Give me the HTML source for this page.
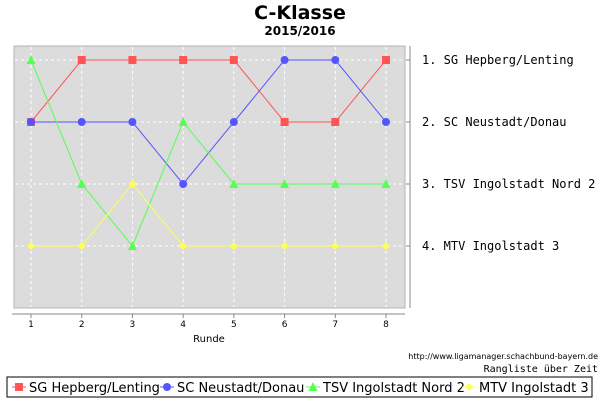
<!DOCTYPE html>
<html><head><meta charset="utf-8"><style>
body{margin:0;background:#fff;width:600px;height:400px;overflow:hidden}
svg text{font-family:"DejaVu Sans","Liberation Sans",sans-serif}
</style></head><body>
<svg id="c" width="600" height="400" xmlns="http://www.w3.org/2000/svg">
<text x="300" y="19" text-anchor="middle" font-size="19" font-weight="bold">C-Klasse</text>
<text x="300" y="35" text-anchor="middle" font-size="12" font-weight="bold">2015/2016</text>
<rect x="14" y="46" width="391" height="262" fill="#dcdcdc" stroke="#b4b4b4"/>
<g id="grid"></g>
<line x1="12" y1="314" x2="405" y2="314" stroke="#888"/>
<line x1="410" y1="46" x2="410" y2="308" stroke="#888"/>
<g id="ticks"></g>
<text x="209" y="342" text-anchor="middle" font-size="10">Runde</text>
<text x="598" y="359" text-anchor="end" font-size="8">http://www.ligamanager.schachbund-bayern.de</text>
<text x="598" y="372" text-anchor="end" font-size="10" font-family="Liberation Mono,monospace" style="font-family:'DejaVu Sans Mono','Liberation Mono',monospace">Rangliste über Zeit</text>
<g id="series"></g>
<rect x="7" y="377" width="585" height="20" fill="#fff" stroke="#000"/>
<g id="legend"></g>
</svg>
<script>
const rounds=[1,2,3,4,5,6,7,8];
const rankTicks=[1,2,3,4];
const teams=["SG Hepberg/Lenting","SC Neustadt/Donau","TSV Ingolstadt Nord 2","MTV Ingolstadt 3"];
const sgRanks=[2,1,1,1,1,2,2,1];
const scRanks=[2,2,2,3,2,1,1,2];
const tsvRanks=[1,3,4,2,3,3,3,3];
const mtvRanks=[4,4,3,4,4,4,4,4];
const colors=["#ff5555","#5555ff","#55ff55","#ffff55"];
const shapes=["square","circle","triangle","diamond"];
const NS="http://www.w3.org/2000/svg";
const X=r=>31+(r-1)*(386-31)/7;
const Y=k=>60+(k-1)*62;
function mk(t,a,p){const e=document.createElementNS(NS,t);for(const k in a)e.setAttribute(k,a[k]);p.appendChild(e);return e;}
const grid=document.getElementById('grid'),ticks=document.getElementById('ticks');
rounds.forEach(r=>{
 const l=mk('line',{x1:X(r),y1:47,x2:X(r),y2:307,stroke:'#fff','stroke-dasharray':'3,3'},grid);
 
 
 mk('line',{x1:X(r),y1:314,x2:X(r),y2:318,stroke:'#888'},ticks);
 const t=mk('text',{x:X(r),y:327,'text-anchor':'middle','font-size':9},ticks);t.textContent=r;
 
 
});
rankTicks.forEach(k=>{
 const l=mk('line',{x1:15,y1:Y(k),x2:404,y2:Y(k),stroke:'#fff','stroke-dasharray':'3,3'},grid);
 
 
 mk('line',{x1:406,y1:Y(k),x2:410,y2:Y(k),stroke:'#888'},ticks);
 const t=mk('text',{x:422,y:Y(k)+4,'font-size':12,style:"font-family:'DejaVu Sans Mono','Liberation Mono',monospace"},ticks);
 t.textContent=k+". "+teams[k-1];
 
 
});
function marker(s,x,y,c,p){
 if(s==='square')return mk('rect',{x:x-4,y:y-4,width:8,height:8,fill:c},p);
 if(s==='circle')return mk('circle',{cx:x,cy:y,r:4,fill:c},p);
 if(s==='triangle')return mk('polygon',{points:`${x},${y-5} ${x+4.5},${y+4} ${x-4.5},${y+4}`,fill:c},p);
 return mk('polygon',{points:`${x},${y-4} ${x+4},${y} ${x},${y+4} ${x-4},${y}`,fill:c},p);
}
const sg=document.getElementById('series');
[sgRanks,scRanks,tsvRanks,mtvRanks].forEach((d,i)=>{
 const g=mk('g',{},sg);
 
 
 const pl=mk('polyline',{points:d.map((v,j)=>X(rounds[j])+','+Y(v)).join(' '),fill:'none',stroke:colors[i],'stroke-width':1},g);
 
 
 d.forEach((v,j)=>{const m=marker(shapes[i],X(rounds[j]),Y(v),colors[i],g);
  
  });
});
const lg=document.getElementById('legend');
const lx=[12,160,306,462];
teams.forEach((t,i)=>{
 const g=mk('g',{},lg);
 
 
 mk('line',{x1:lx[i],y1:387,x2:lx[i]+14,y2:387,stroke:colors[i]},g);
 marker(shapes[i],lx[i]+7,387,colors[i],g);
 const tx=mk('text',{x:lx[i]+17,y:392,'font-size':13},g);tx.textContent=t;
});
</script>
</body></html>
